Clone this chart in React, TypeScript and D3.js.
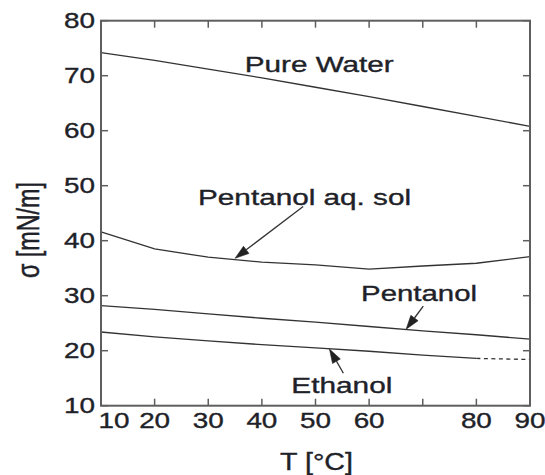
import React from "react";
import * as d3 from "d3";

// Surface tension σ [mN/m] versus temperature T [°C]
const temps = [10, 20, 30, 40, 50, 60, 70, 80, 90];
const pureWater = [74.2, 72.8, 71.2, 69.6, 67.9, 66.2, 64.4, 62.6, 60.8];
const pentanolAqSol = [41.6, 38.5, 37.0, 36.1, 35.6, 34.85, 35.4, 35.9, 37.1];
const pentanol = [28.2, 27.5, 26.7, 25.9, 25.2, 24.4, 23.6, 22.9, 22.1];
const ethanolTemps = [10, 20, 30, 40, 50, 60, 70, 80];
const ethanol = [23.4, 22.5, 21.8, 21.1, 20.5, 19.9, 19.2, 18.6];
const ethanolExtTemps = [80, 90];
const ethanolExt = [18.6, 18.4];

const xTicks = [10, 20, 30, 40, 50, 60, 70, 80, 90];
const xTickLabels = ["10", "20", "30", "40", "50", "60", "", "80", "90"];
const yTicks = [10, 20, 30, 40, 50, 60, 70, 80];

// annotation labels: text, anchor T, anchor σ, drawn width
const labelTexts = ["Pure Water", "Pentanol aq. sol", "Pentanol", "Ethanol"];
const labelT = [36.8, 28.1, 58.5, 45.5];
const labelSigma = [70.7, 46.5, 29.1, 12.25];
const labelWidths = [149, 213, 116, 101];

// arrows: from (T, σ) to tip (T, σ)
const arrowFromT = [47.7, 70.1, 55.2];
const arrowFromSigma = [46.2, 28.1, 15.9];
const arrowToT = [35.0, 66.9, 52.6];
const arrowToSigma = [36.8, 23.9, 20.3];

const W = 545;
const H = 475;
const left = 101;
const right = 530;
const top = 20.7;
const bottom = 405.7;
const FONT = "'Liberation Sans', Arial, Helvetica, sans-serif";
const TEXT = "#1e2228";
const LINE = "#333";
const FRAME = "#5e5e5e";

const textStyle = {
  fontFamily: FONT,
  fill: TEXT,
  stroke: TEXT,
  strokeWidth: 0.35,
};

export default function App() {
  const x = d3.scaleLinear().domain([10, 90]).range([left, right]);
  const y = d3.scaleLinear().domain([10, 80]).range([bottom, top]);

  const line = d3
    .line<[number, number]>()
    .x((d) => x(d[0]))
    .y((d) => y(d[1]));

  const zip = (ts: number[], vs: number[]) =>
    ts.map((t, i) => [t, vs[i]] as [number, number]);

  const series = [
    zip(temps, pureWater),
    zip(temps, pentanolAqSol),
    zip(temps, pentanol),
    zip(ethanolTemps, ethanol),
  ];

  const tickLen = 7;
  const fs = 21.5;

  const arrows = arrowFromT.map((t, i) => {
    const x0 = x(t);
    const y0 = y(arrowFromSigma[i]);
    const x1 = x(arrowToT[i]);
    const y1 = y(arrowToSigma[i]);
    const dx = x1 - x0;
    const dy = y1 - y0;
    const len = Math.hypot(dx, dy);
    const ux = dx / len;
    const uy = dy / len;
    const hl = 14;
    const hw = 4.5;
    const bx = x1 - ux * hl;
    const by = y1 - uy * hl;
    const head = `M${x1},${y1}L${bx - uy * hw},${by + ux * hw}L${bx + uy * hw},${by - ux * hw}Z`;
    return { x0, y0, bx, by, head };
  });

  return (
    <svg
      width={W}
      height={H}
      viewBox={`0 0 ${W} ${H}`}
      style={{ position: "absolute", left: 0, top: 0, background: "#fff" }}
    >
      <rect width={W} height={H} fill="#fff" />

      {/* data curves */}
      {series.map((s, i) => (
        <path key={i} d={line(s) || ""} fill="none" stroke={LINE} strokeWidth={1.3} />
      ))}
      <path
        d={line(zip(ethanolExtTemps, ethanolExt)) || ""}
        fill="none"
        stroke={LINE}
        strokeWidth={1.3}
        strokeDasharray="4 3.5"
      />

      {/* ticks, inward on all four sides */}
      {xTicks.map((t) => (
        <g key={"xt" + t} stroke={FRAME} strokeWidth={1.5}>
          <line x1={x(t)} x2={x(t)} y1={bottom} y2={bottom - tickLen} />
          <line x1={x(t)} x2={x(t)} y1={top} y2={top + tickLen} />
        </g>
      ))}
      {yTicks.map((v) => (
        <g key={"yt" + v} stroke={FRAME} strokeWidth={1.5}>
          <line x1={left} x2={left + tickLen} y1={y(v)} y2={y(v)} />
          <line x1={right} x2={right - tickLen} y1={y(v)} y2={y(v)} />
        </g>
      ))}

      {/* frame */}
      <rect
        x={left}
        y={top}
        width={right - left}
        height={bottom - top}
        fill="none"
        stroke={FRAME}
        strokeWidth={2}
      />

      {/* tick labels */}
      {yTicks.map((v) => (
        <text
          key={"yl" + v}
          x={95}
          y={y(v) + 7.7}
          textAnchor="end"
          fontSize={fs}
          style={textStyle}
          textLength={31}
          lengthAdjust="spacingAndGlyphs"
        >
          {v}
        </text>
      ))}
      {xTicks.map((t, i) =>
        xTickLabels[i] ? (
          <text
            key={"xl" + t}
            x={i === 0 ? x(t) + 13 : x(t)}
            y={428.3}
            textAnchor="middle"
            fontSize={fs}
            style={textStyle}
            textLength={31}
            lengthAdjust="spacingAndGlyphs"
          >
            {xTickLabels[i]}
          </text>
        ) : null
      )}

      {/* axis titles */}
      <text
        x={(left + right) / 2 + 1}
        y={470}
        textAnchor="middle"
        fontSize={23}
        style={textStyle}
        textLength={73}
        lengthAdjust="spacingAndGlyphs"
      >
        T [°C]
      </text>
      <g transform="translate(39,230) scale(1.4,1) rotate(-90)">
        <text
          x={0}
          y={0}
          textAnchor="middle"
          fontSize={23}
          style={textStyle}
          textLength={96}
          lengthAdjust="spacingAndGlyphs"
        >
          σ [mN/m]
        </text>
      </g>

      {/* curve annotations */}
      {labelTexts.map((s, i) => (
        <text
          key={s}
          x={x(labelT[i])}
          y={y(labelSigma[i])}
          fontSize={fs}
          style={textStyle}
          textLength={labelWidths[i]}
          lengthAdjust="spacingAndGlyphs"
        >
          {s}
        </text>
      ))}
      {arrows.map((a, i) => (
        <g key={"ar" + i}>
          <line x1={a.x0} y1={a.y0} x2={a.bx} y2={a.by} stroke={LINE} strokeWidth={1.3} />
          <path d={a.head} fill="#222" stroke="#222" strokeWidth={0.6} />
        </g>
      ))}
    </svg>
  );
}
